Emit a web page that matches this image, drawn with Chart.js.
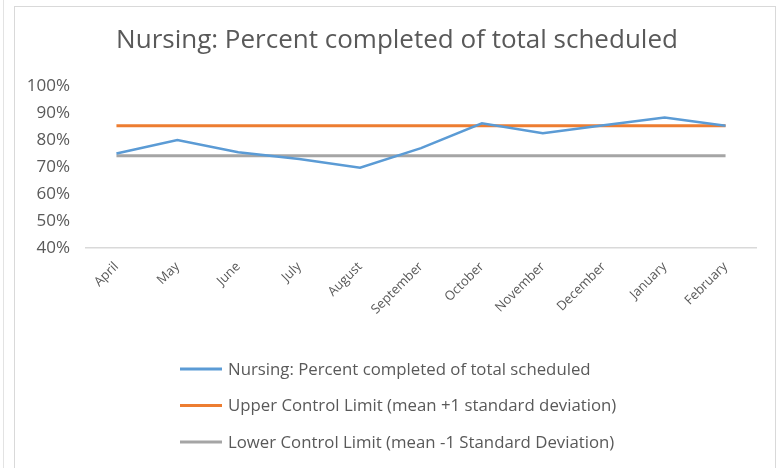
<!DOCTYPE html>
<html>
<head>
<meta charset="utf-8">
<script src="https://cdn.jsdelivr.net/npm/chart.js@4"></script>
<style>
  html, body { margin: 0; padding: 0; background: #fff; }
  #wrap { position: relative; width: 779px; height: 468px; overflow: hidden; }
  #frame { position: absolute; left: 14px; top: 6px; width: 762px; height: 480px; border: 1px solid #d9d9d9; box-sizing: border-box; }
  #edge { position: absolute; left: 3px; top: 0; width: 1px; height: 468px; background: #e3e3e3; }
  canvas { position: absolute; left: 0; top: 0; }
</style>
</head>
<body>
<div id="wrap">
  <div id="edge"></div>
  <div id="frame"></div>
  <canvas id="chart" width="779" height="468"></canvas>
</div>
<script>
// Monthly nursing completion rate with control limits
const chartTitle = 'Nursing: Percent completed of total scheduled';
const months = ['April', 'May', 'June', 'July', 'August', 'September', 'October', 'November', 'December', 'January', 'February'];
const nursingPct = [0.75, 0.80, 0.755, 0.73, 0.697, 0.77, 0.862, 0.825, 0.855, 0.883, 0.853];
const upperLimit = [0.853, 0.853, 0.853, 0.853, 0.853, 0.853, 0.853, 0.853, 0.853, 0.853, 0.853];
const lowerLimit = [0.742, 0.742, 0.742, 0.742, 0.742, 0.742, 0.742, 0.742, 0.742, 0.742, 0.742];
const yTicks = [0.4, 0.5, 0.6, 0.7, 0.8, 0.9, 1.0];

const FONT = 'Open Sans';
const TEXT = '#595959';

// title sits a little right of the canvas centre, legend is a left-aligned stack
const excelDecor = {
  id: 'excelDecor',
  afterDraw(chart) {
    const ctx = chart.ctx;
    ctx.save();
    ctx.fillStyle = TEXT;
    ctx.textBaseline = 'middle';
    ctx.textAlign = 'center';
    ctx.font = '26px "' + FONT + '"';
    ctx.fillText(chartTitle, 397, 41);

    ctx.textAlign = 'left';
    ctx.font = '16.8px "' + FONT + '"';
    chart.data.datasets.forEach((ds, i) => {
      const y = 369 + i * 36.5;
      ctx.strokeStyle = ds.borderColor;
      ctx.lineWidth = 3;
      ctx.beginPath();
      ctx.moveTo(180, y);
      ctx.lineTo(222, y);
      ctx.stroke();
      ctx.fillText(ds.label, 228, y + 1);
    });
    ctx.restore();
  },
};

new Chart(document.getElementById('chart'), {
  type: 'line',
  data: {
    labels: months,
    datasets: [
      { label: 'Nursing: Percent completed of total scheduled', data: nursingPct, borderColor: '#5b9bd5', borderWidth: 2.5 },
      { label: 'Upper Control Limit (mean +1 standard deviation)', data: upperLimit, borderColor: '#ed7d31', borderWidth: 3 },
      { label: 'Lower Control Limit (mean -1 Standard Deviation)', data: lowerLimit, borderColor: '#a5a5a5', borderWidth: 3 },
    ],
  },
  options: {
    responsive: false,
    animation: false,
    elements: { point: { radius: 0 }, line: { tension: 0, borderCapStyle: 'butt' } },
    layout: { padding: { left: 14, right: 23, top: 86, bottom: 120 } },
    plugins: {
      legend: { display: false },
      tooltip: { enabled: false },
      title: { display: false },
    },
    scales: {
      x: {
        offset: true,
        grid: { display: false, drawTicks: false },
        border: { color: '#d9d9d9', width: 1.5 },
        ticks: { color: TEXT, font: { family: FONT, size: 13 }, maxRotation: 45, minRotation: 45, padding: 11, autoSkip: false },
        afterFit(scale) { scale.height = 100; },
      },
      y: {
        min: 0.4,
        max: 1.0,
        grid: { display: false, drawTicks: false },
        border: { display: false },
        afterBuildTicks(scale) { scale.ticks = yTicks.map(v => ({ value: v })); },
        ticks: {
          color: TEXT,
          font: { family: FONT, size: 17 },
          padding: 16,
          callback: v => Math.round(v * 100) + '%',
        },
        afterFit(scale) { scale.width = 72; },
      },
    },
  },
  plugins: [excelDecor],
});
</script>
</body>
</html>
